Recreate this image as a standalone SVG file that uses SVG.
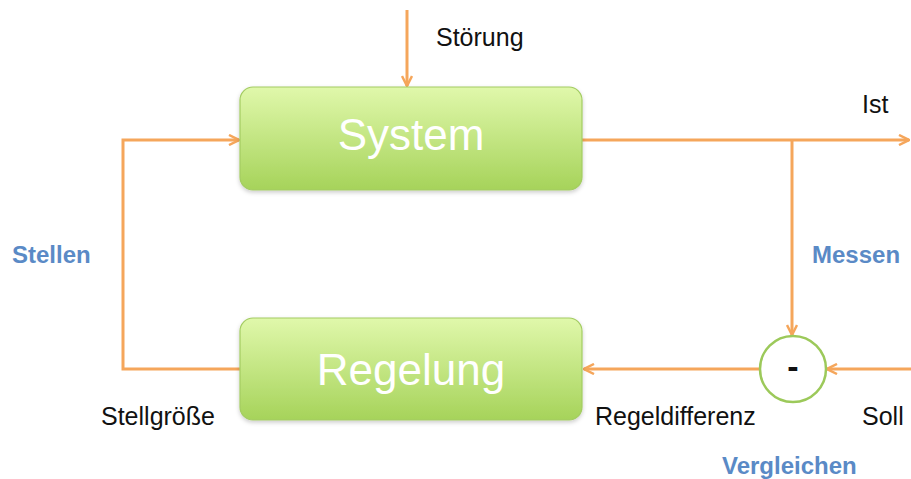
<svg xmlns="http://www.w3.org/2000/svg" width="911" height="479" viewBox="0 0 911 479">
<style>
.ln{fill:none;stroke:#f5a65b;stroke-width:3}
.box{stroke:#a3cc62;stroke-width:1.2}
.big{font-family:"Liberation Sans",Arial,sans-serif;font-size:44px;fill:#fff;text-anchor:middle}
.lbl{font-family:"Liberation Sans",Arial,sans-serif;font-size:25px;fill:#111}
.blue{font-family:"Liberation Sans",Arial,sans-serif;font-size:24px;font-weight:bold;fill:#5a8ac6}
</style>
<defs>
<linearGradient id="g" x1="0" y1="0" x2="0" y2="1">
<stop offset="0" stop-color="#e0f8ab"/>
<stop offset="1" stop-color="#a6d35a"/>
</linearGradient>
<filter id="sh" x="-5%" y="-5%" width="110%" height="120%">
<feDropShadow dx="0" dy="2" stdDeviation="2" flood-color="#000" flood-opacity="0.2"/>
</filter>
<marker id="ah" viewBox="0 0 12 12" refX="11" refY="6" markerWidth="12" markerHeight="12" markerUnits="userSpaceOnUse" orient="auto">
<path d="M1,1 L11,6 L1,11" fill="none" stroke="#f5a65b" stroke-width="2.5"/>
</marker>
</defs>
<g id="connectors">
<path class="ln" d="M407,10 V86" marker-end="url(#ah)"/>
<path class="ln" d="M582,140 H909" marker-end="url(#ah)"/>
<path class="ln" d="M792,140 V335" marker-end="url(#ah)"/>
<path class="ln" d="M911,369 H827" marker-end="url(#ah)"/>
<path class="ln" d="M760,369 H584" marker-end="url(#ah)"/>
<path class="ln" d="M240,369 H123 V140 H239" marker-end="url(#ah)"/>
</g>
<g id="system">
<rect class="box" x="240" y="87" width="342" height="103" rx="13" fill="url(#g)" filter="url(#sh)"/>
<text class="big" x="411" y="150">System</text>
</g>
<g id="regelung">
<rect class="box" x="240" y="318" width="342" height="102" rx="13" fill="url(#g)" filter="url(#sh)"/>
<text class="big" x="411" y="385">Regelung</text>
</g>
<g id="vergleich">
<circle cx="793" cy="369" r="33" fill="#fff" stroke="#9cc95a" stroke-width="2.5"/>
<text x="793" y="378" text-anchor="middle" font-family="Liberation Sans, Arial, sans-serif" font-size="34" font-weight="bold" fill="#111">-</text>
</g>
<g id="labels">
<text class="lbl" x="436" y="46">Störung</text>
<text class="lbl" x="862" y="113">Ist</text>
<text class="lbl" x="101" y="425">Stellgröße</text>
<text class="lbl" x="595" y="425">Regeldifferenz</text>
<text class="lbl" x="862" y="425">Soll</text>
<text class="blue" x="12" y="263">Stellen</text>
<text class="blue" x="812" y="263">Messen</text>
<text class="blue" x="722" y="474">Vergleichen</text>
</g>
</svg>
